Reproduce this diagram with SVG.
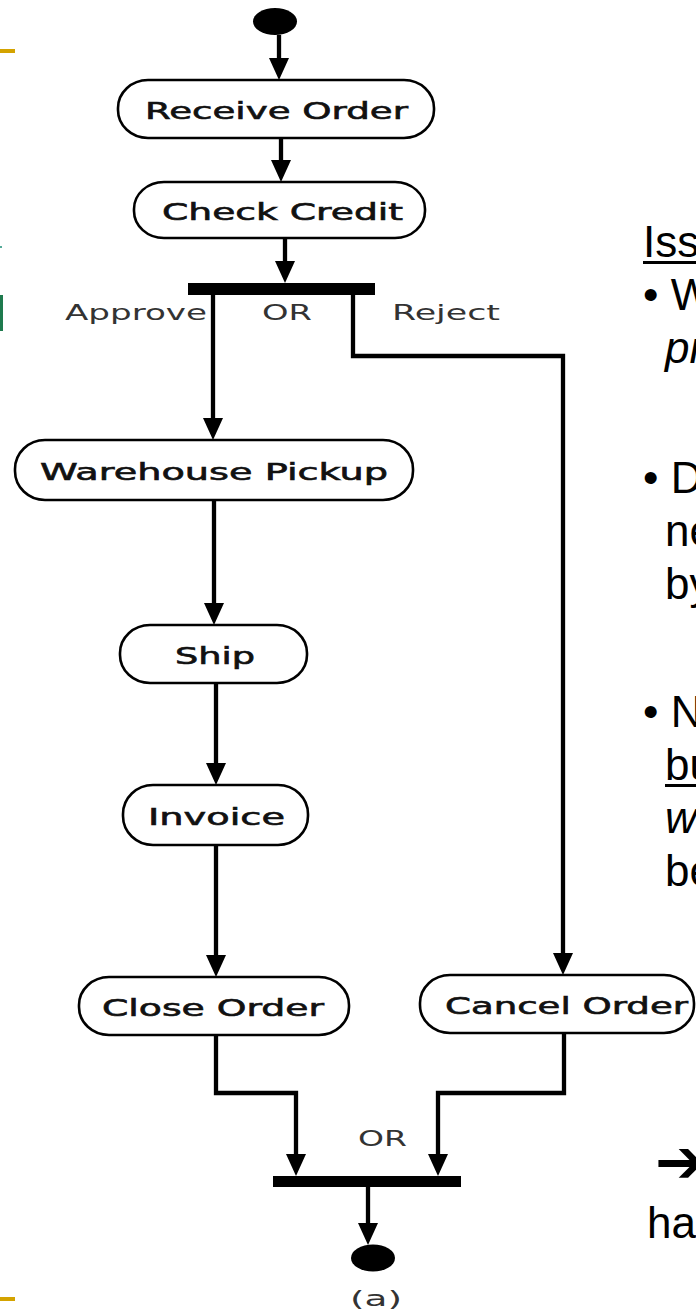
<svg xmlns="http://www.w3.org/2000/svg" width="696" height="1311" viewBox="0 0 696 1311">
<style>
.node rect{fill:#fff;stroke:#000;stroke-width:2.6}
.lbl{font-family:"DejaVu Sans",Verdana,sans-serif;font-size:23px;fill:#111;stroke:#111;stroke-width:0.6}
.guard{font-family:"DejaVu Sans",Verdana,sans-serif;font-size:21px;fill:#333}
.conn path{fill:none;stroke:#000;stroke-width:4.3}
.slide{font-family:"Liberation Sans",Arial,sans-serif;font-size:44px;fill:#000}
.deco{fill:#D4A300}
</style>
<defs>
<marker id="ah" viewBox="0 0 22 20" refX="10" refY="10" markerWidth="22" markerHeight="20" markerUnits="userSpaceOnUse" orient="auto">
<path d="M0,0 L22,10 L0,20 z" fill="#000"/>
</marker>
</defs>
<rect x="0" y="0" width="696" height="1311" fill="#fff"/>
<g id="decorations">
<rect class="deco" x="0" y="49" width="15" height="4"/>
<rect class="deco" x="0" y="1297" width="15" height="4"/>
<rect x="0" y="295" width="3" height="36" fill="#1E7A4E"/>
<rect x="0" y="246" width="2" height="2" fill="#5a9"/>
</g>
<g id="connectors" class="conn">
<path d="M279,35 V68" marker-end="url(#ah)"/>
<path d="M281,138 V170" marker-end="url(#ah)"/>
<path d="M285,238 V271" marker-end="url(#ah)"/>
<path d="M213,295 V428" marker-end="url(#ah)"/>
<path d="M353,295 V356 H563 V963" marker-end="url(#ah)"/>
<path d="M214,500 V613" marker-end="url(#ah)"/>
<path d="M216,683 V773" marker-end="url(#ah)"/>
<path d="M216,845 V965" marker-end="url(#ah)"/>
<path d="M216,1035 V1093 H296 V1164" marker-end="url(#ah)"/>
<path d="M564,1033 V1093 H438 V1164" marker-end="url(#ah)"/>
<path d="M368,1187 V1233" marker-end="url(#ah)"/>
</g>
<g id="start"><ellipse cx="275" cy="21.5" rx="22" ry="13.5" fill="#000"/></g>
<g id="receive-order" class="node"><rect x="118" y="80" width="316" height="58" rx="30" ry="28"/><text class="lbl" x="145" y="119" textLength="263" lengthAdjust="spacingAndGlyphs">Receive Order</text></g>
<g id="check-credit" class="node"><rect x="134" y="182" width="291" height="56" rx="30" ry="27"/><text class="lbl" x="162" y="220" textLength="241" lengthAdjust="spacingAndGlyphs">Check Credit</text></g>
<g id="decision-bar"><rect x="188" y="283" width="187" height="12" fill="#000"/>
<text class="guard" x="65" y="320" textLength="142" lengthAdjust="spacingAndGlyphs">Approve</text>
<text class="guard" x="262" y="320" textLength="50" lengthAdjust="spacingAndGlyphs">OR</text>
<text class="guard" x="392" y="320" textLength="108" lengthAdjust="spacingAndGlyphs">Reject</text></g>
<g id="warehouse-pickup" class="node"><rect x="15" y="440" width="398" height="60" rx="30" ry="29"/><text class="lbl" x="40" y="480" textLength="348" lengthAdjust="spacingAndGlyphs">Warehouse Pickup</text></g>
<g id="ship" class="node"><rect x="120" y="625" width="187" height="58" rx="30" ry="28"/><text class="lbl" x="175" y="664" textLength="80" lengthAdjust="spacingAndGlyphs">Ship</text></g>
<g id="invoice" class="node"><rect x="123" y="785" width="185" height="60" rx="30" ry="29"/><text class="lbl" x="148" y="825" textLength="137" lengthAdjust="spacingAndGlyphs">Invoice</text></g>
<g id="close-order" class="node"><rect x="79" y="977" width="270" height="58" rx="30" ry="28"/><text class="lbl" x="102" y="1016" textLength="222" lengthAdjust="spacingAndGlyphs">Close Order</text></g>
<g id="cancel-order" class="node"><rect x="420" y="975" width="274" height="58" rx="30" ry="28"/><text class="lbl" x="445" y="1014" textLength="243" lengthAdjust="spacingAndGlyphs">Cancel Order</text></g>
<g id="merge-bar"><rect x="273" y="1176" width="188" height="11" fill="#000"/>
<text class="guard" x="358" y="1146" textLength="49" lengthAdjust="spacingAndGlyphs">OR</text></g>
<g id="end"><ellipse cx="373" cy="1258" rx="22" ry="13.5" fill="#000"/></g>
<text class="guard" x="350" y="1306" font-size="20" textLength="52" lengthAdjust="spacingAndGlyphs">(a)</text>
<g id="slide-text" class="slide">
<text x="643" y="257">Iss</text>
<rect x="643" y="261" width="53" height="3" fill="#000"/>
<text x="643" y="310">• W</text>
<text x="665" y="363" font-style="italic">pr</text>
<text x="643" y="493">• D</text>
<text x="665" y="546">ne</text>
<text x="665" y="599">by</text>
<text x="643" y="727">• N</text>
<text x="665" y="780">bu</text>
<rect x="665" y="784" width="31" height="3" fill="#000"/>
<text x="665" y="833" font-style="italic">w</text>
<text x="665" y="886">be</text>
<text x="655" y="1182" font-family="DejaVu Sans,sans-serif" font-weight="bold" font-size="60">➔</text>
<text x="647" y="1238">ha</text>
</g>
</svg>
